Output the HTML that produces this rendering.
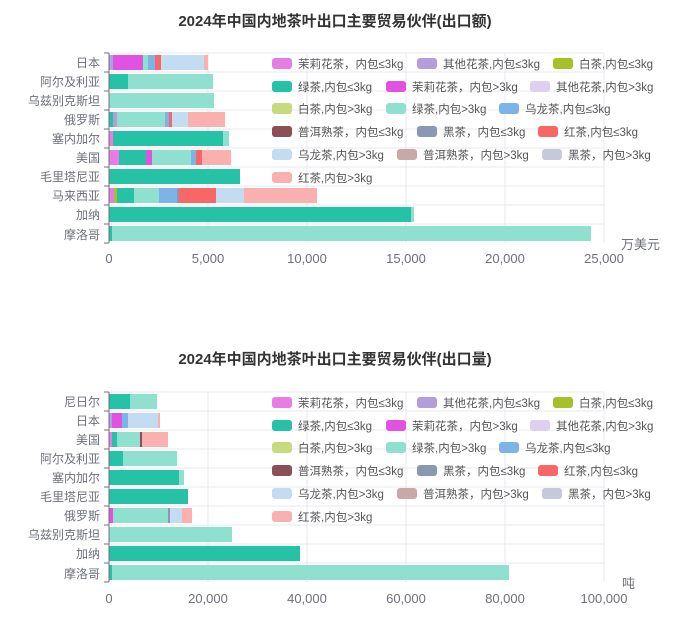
<!DOCTYPE html>
<html><head><meta charset="utf-8"><style>
body{margin:0;background:#fff;}
svg text{font-family:"Liberation Sans","Noto Sans CJK SC",sans-serif;}
</style></head><body>
<svg width="683" height="622" viewBox="0 0 683 622" xmlns="http://www.w3.org/2000/svg">
<rect width="683" height="622" fill="#fff"/>
<text x="335" y="26" text-anchor="middle" font-size="15" font-weight="bold" fill="#333">2024年中国内地茶叶出口主要贸易伙伴(出口额)</text>
<g stroke="#e6e9ef" stroke-width="1">
<line x1="208" y1="53" x2="208" y2="243"/><line x1="307" y1="53" x2="307" y2="243"/><line x1="406" y1="53" x2="406" y2="243"/><line x1="505" y1="53" x2="505" y2="243"/><line x1="604" y1="53" x2="604" y2="243"/>
<line x1="109" y1="53" x2="604" y2="53"/><line x1="109" y1="72" x2="604" y2="72"/><line x1="109" y1="91" x2="604" y2="91"/><line x1="109" y1="110" x2="604" y2="110"/><line x1="109" y1="129" x2="604" y2="129"/><line x1="109" y1="148" x2="604" y2="148"/><line x1="109" y1="167" x2="604" y2="167"/><line x1="109" y1="186" x2="604" y2="186"/><line x1="109" y1="205" x2="604" y2="205"/><line x1="109" y1="224" x2="604" y2="224"/>
</g>
<g>
<rect x="109" y="55" width="4" height="15" fill="#b39ddb"/><rect x="113" y="55" width="30" height="15" fill="#e052e0"/><rect x="143" y="55" width="5" height="15" fill="#8fe0cf"/><rect x="148" y="55" width="7" height="15" fill="#7db3e8"/><rect x="155" y="55" width="6" height="15" fill="#f96666"/><rect x="161" y="55" width="43" height="15" fill="#c4dcf2"/><rect x="204" y="55" width="4" height="15" fill="#fbb0b0"/>
<rect x="109" y="74" width="19" height="15" fill="#26c2a6"/><rect x="128" y="74" width="85" height="15" fill="#8fe0cf"/>
<rect x="109" y="93" width="105" height="15" fill="#8fe0cf"/>
<rect x="109" y="112" width="4" height="15" fill="#26c2a6"/><rect x="113" y="112" width="4" height="15" fill="#b39ddb"/><rect x="117" y="112" width="48" height="15" fill="#8fe0cf"/><rect x="165" y="112" width="4" height="15" fill="#7db3e8"/><rect x="169" y="112" width="3" height="15" fill="#f96666"/><rect x="172" y="112" width="16" height="15" fill="#c4dcf2"/><rect x="188" y="112" width="37" height="15" fill="#fbb0b0"/>
<rect x="109" y="131" width="4" height="15" fill="#e57de5"/><rect x="113" y="131" width="110" height="15" fill="#26c2a6"/><rect x="223" y="131" width="6" height="15" fill="#8fe0cf"/>
<rect x="109" y="150" width="10" height="15" fill="#e57de5"/><rect x="119" y="150" width="27" height="15" fill="#26c2a6"/><rect x="146" y="150" width="6" height="15" fill="#e052e0"/><rect x="152" y="150" width="39" height="15" fill="#8fe0cf"/><rect x="191" y="150" width="5" height="15" fill="#7db3e8"/><rect x="196" y="150" width="6" height="15" fill="#f96666"/><rect x="202" y="150" width="29" height="15" fill="#fbb0b0"/>
<rect x="109" y="169" width="131" height="15" fill="#26c2a6"/>
<rect x="109" y="188" width="5" height="15" fill="#e57de5"/><rect x="114" y="188" width="3" height="15" fill="#a6c02a"/><rect x="117" y="188" width="17" height="15" fill="#26c2a6"/><rect x="134" y="188" width="25" height="15" fill="#8fe0cf"/><rect x="159" y="188" width="18" height="15" fill="#7db3e8"/><rect x="177" y="188" width="2" height="15" fill="#8a98b3"/><rect x="179" y="188" width="37" height="15" fill="#f96666"/><rect x="216" y="188" width="28" height="15" fill="#c4dcf2"/><rect x="244" y="188" width="73" height="15" fill="#fbb0b0"/>
<rect x="109" y="207" width="302" height="15" fill="#26c2a6"/><rect x="411" y="207" width="3" height="15" fill="#8fe0cf"/>
<rect x="109" y="226" width="3" height="15" fill="#26c2a6"/><rect x="112" y="226" width="479" height="15" fill="#8fe0cf"/>
</g>
<g stroke="#6e7079" stroke-width="1">
<line x1="109" y1="53" x2="109" y2="243"/>
<line x1="104" y1="53" x2="109" y2="53"/><line x1="104" y1="72" x2="109" y2="72"/><line x1="104" y1="91" x2="109" y2="91"/><line x1="104" y1="110" x2="109" y2="110"/><line x1="104" y1="129" x2="109" y2="129"/><line x1="104" y1="148" x2="109" y2="148"/><line x1="104" y1="167" x2="109" y2="167"/><line x1="104" y1="186" x2="109" y2="186"/><line x1="104" y1="205" x2="109" y2="205"/><line x1="104" y1="224" x2="109" y2="224"/><line x1="104" y1="243" x2="109" y2="243"/>
</g>
<g font-size="12" fill="#6e7079" text-anchor="end">
<text x="100" y="67">日本</text><text x="100" y="86">阿尔及利亚</text><text x="100" y="105">乌兹别克斯坦</text><text x="100" y="124">俄罗斯</text><text x="100" y="143">塞内加尔</text><text x="100" y="162">美国</text><text x="100" y="181">毛里塔尼亚</text><text x="100" y="200">马来西亚</text><text x="100" y="219">加纳</text><text x="100" y="239">摩洛哥</text>
</g>
<g font-size="13" fill="#6e7079" text-anchor="middle">
<text x="109" y="263">0</text><text x="208" y="263">5,000</text><text x="307" y="263">10,000</text><text x="406" y="263">15,000</text><text x="505" y="263">20,000</text><text x="604" y="263">25,000</text>
</g>
<text x="621" y="249" font-size="13" fill="#6e7079">万美元</text>
<g font-size="11.5" fill="#555">
<rect x="272" y="58" width="20" height="11" rx="3" fill="#e57de5"/><text x="298" y="68">茉莉花茶，内包≤3kg</text>
<rect x="417" y="58" width="20" height="11" rx="3" fill="#b39ddb"/><text x="443" y="68">其他花茶,内包≤3kg</text>
<rect x="553" y="58" width="20" height="11" rx="3" fill="#a6c02a"/><text x="579" y="68">白茶,内包≤3kg</text>
<rect x="272" y="81" width="20" height="11" rx="3" fill="#26c2a6"/><text x="298" y="91">绿茶,内包≤3kg</text>
<rect x="386" y="81" width="20" height="11" rx="3" fill="#e052e0"/><text x="412" y="91">茉莉花茶，内包&gt;3kg</text>
<rect x="530" y="81" width="20" height="11" rx="3" fill="#dcd0ee"/><text x="556" y="91">其他花茶,内包&gt;3kg</text>
<rect x="272" y="103" width="20" height="11" rx="3" fill="#c8da7e"/><text x="298" y="113">白茶,内包&gt;3kg</text>
<rect x="386" y="103" width="20" height="11" rx="3" fill="#8fe0cf"/><text x="412" y="113">绿茶,内包&gt;3kg</text>
<rect x="499" y="103" width="20" height="11" rx="3" fill="#7db3e8"/><text x="525" y="113">乌龙茶,内包≤3kg</text>
<rect x="272" y="126" width="20" height="11" rx="3" fill="#8b4f57"/><text x="298" y="136">普洱熟茶，内包≤3kg</text>
<rect x="417" y="126" width="20" height="11" rx="3" fill="#8a98b3"/><text x="443" y="136">黑茶，内包≤3kg</text>
<rect x="538" y="126" width="20" height="11" rx="3" fill="#f96666"/><text x="564" y="136">红茶,内包≤3kg</text>
<rect x="272" y="149" width="20" height="11" rx="3" fill="#c4dcf2"/><text x="298" y="159">乌龙茶,内包&gt;3kg</text>
<rect x="397" y="149" width="20" height="11" rx="3" fill="#c9a8a8"/><text x="423" y="159">普洱熟茶，内包&gt;3kg</text>
<rect x="542" y="149" width="20" height="11" rx="3" fill="#c6cad8"/><text x="568" y="159">黑茶，内包&gt;3kg</text>
<rect x="272" y="172" width="20" height="11" rx="3" fill="#fbb0b0"/><text x="298" y="182">红茶,内包&gt;3kg</text>
</g>

<text x="335" y="364" text-anchor="middle" font-size="15" font-weight="bold" fill="#333">2024年中国内地茶叶出口主要贸易伙伴(出口量)</text>
<g stroke="#e6e9ef" stroke-width="1">
<line x1="208" y1="392" x2="208" y2="582"/><line x1="307" y1="392" x2="307" y2="582"/><line x1="406" y1="392" x2="406" y2="582"/><line x1="505" y1="392" x2="505" y2="582"/><line x1="604" y1="392" x2="604" y2="582"/>
<line x1="109" y1="392" x2="604" y2="392"/><line x1="109" y1="411" x2="604" y2="411"/><line x1="109" y1="430" x2="604" y2="430"/><line x1="109" y1="449" x2="604" y2="449"/><line x1="109" y1="468" x2="604" y2="468"/><line x1="109" y1="487" x2="604" y2="487"/><line x1="109" y1="506" x2="604" y2="506"/><line x1="109" y1="525" x2="604" y2="525"/><line x1="109" y1="544" x2="604" y2="544"/><line x1="109" y1="563" x2="604" y2="563"/>
</g>
<g>
<rect x="109" y="394" width="21" height="15" fill="#26c2a6"/><rect x="130" y="394" width="27" height="15" fill="#8fe0cf"/>
<rect x="109" y="413" width="3" height="15" fill="#b39ddb"/><rect x="112" y="413" width="10" height="15" fill="#e052e0"/><rect x="122" y="413" width="6" height="15" fill="#7db3e8"/><rect x="128" y="413" width="30" height="15" fill="#c4dcf2"/><rect x="158" y="413" width="2" height="15" fill="#fbb0b0"/>
<rect x="109" y="432" width="3" height="15" fill="#e57de5"/><rect x="112" y="432" width="5" height="15" fill="#26c2a6"/><rect x="117" y="432" width="23" height="15" fill="#8fe0cf"/><rect x="140" y="432" width="2" height="15" fill="#8b4f57"/><rect x="142" y="432" width="26" height="15" fill="#fbb0b0"/>
<rect x="109" y="451" width="14" height="15" fill="#26c2a6"/><rect x="123" y="451" width="54" height="15" fill="#8fe0cf"/>
<rect x="109" y="470" width="70" height="15" fill="#26c2a6"/><rect x="179" y="470" width="5" height="15" fill="#8fe0cf"/>
<rect x="109" y="489" width="79" height="15" fill="#26c2a6"/>
<rect x="109" y="508" width="4" height="15" fill="#e052e0"/><rect x="113" y="508" width="55" height="15" fill="#8fe0cf"/><rect x="168" y="508" width="2" height="15" fill="#8a98b3"/><rect x="170" y="508" width="12" height="15" fill="#c4dcf2"/><rect x="182" y="508" width="10" height="15" fill="#fbb0b0"/>
<rect x="109" y="527" width="123" height="15" fill="#8fe0cf"/>
<rect x="109" y="546" width="191" height="15" fill="#26c2a6"/>
<rect x="109" y="565" width="3" height="15" fill="#26c2a6"/><rect x="112" y="565" width="397" height="15" fill="#8fe0cf"/>
</g>
<g stroke="#6e7079" stroke-width="1">
<line x1="109" y1="392" x2="109" y2="582"/>
<line x1="104" y1="392" x2="109" y2="392"/><line x1="104" y1="411" x2="109" y2="411"/><line x1="104" y1="430" x2="109" y2="430"/><line x1="104" y1="449" x2="109" y2="449"/><line x1="104" y1="468" x2="109" y2="468"/><line x1="104" y1="487" x2="109" y2="487"/><line x1="104" y1="506" x2="109" y2="506"/><line x1="104" y1="525" x2="109" y2="525"/><line x1="104" y1="544" x2="109" y2="544"/><line x1="104" y1="563" x2="109" y2="563"/><line x1="104" y1="582" x2="109" y2="582"/>
</g>
<g font-size="12" fill="#6e7079" text-anchor="end">
<text x="100" y="406">尼日尔</text><text x="100" y="425">日本</text><text x="100" y="444">美国</text><text x="100" y="463">阿尔及利亚</text><text x="100" y="482">塞内加尔</text><text x="100" y="501">毛里塔尼亚</text><text x="100" y="520">俄罗斯</text><text x="100" y="539">乌兹别克斯坦</text><text x="100" y="558">加纳</text><text x="100" y="578">摩洛哥</text>
</g>
<g font-size="13" fill="#6e7079" text-anchor="middle">
<text x="109" y="603">0</text><text x="208" y="603">20,000</text><text x="307" y="603">40,000</text><text x="406" y="603">60,000</text><text x="505" y="603">80,000</text><text x="604" y="603">100,000</text>
</g>
<text x="622" y="588" font-size="13" fill="#6e7079">吨</text>
<g font-size="11.5" fill="#555">
<rect x="272" y="397" width="20" height="11" rx="3" fill="#e57de5"/><text x="298" y="407">茉莉花茶，内包≤3kg</text>
<rect x="417" y="397" width="20" height="11" rx="3" fill="#b39ddb"/><text x="443" y="407">其他花茶,内包≤3kg</text>
<rect x="553" y="397" width="20" height="11" rx="3" fill="#a6c02a"/><text x="579" y="407">白茶,内包≤3kg</text>
<rect x="272" y="420" width="20" height="11" rx="3" fill="#26c2a6"/><text x="298" y="430">绿茶,内包≤3kg</text>
<rect x="386" y="420" width="20" height="11" rx="3" fill="#e052e0"/><text x="412" y="430">茉莉花茶，内包&gt;3kg</text>
<rect x="530" y="420" width="20" height="11" rx="3" fill="#dcd0ee"/><text x="556" y="430">其他花茶,内包&gt;3kg</text>
<rect x="272" y="442" width="20" height="11" rx="3" fill="#c8da7e"/><text x="298" y="452">白茶,内包&gt;3kg</text>
<rect x="386" y="442" width="20" height="11" rx="3" fill="#8fe0cf"/><text x="412" y="452">绿茶,内包&gt;3kg</text>
<rect x="499" y="442" width="20" height="11" rx="3" fill="#7db3e8"/><text x="525" y="452">乌龙茶,内包≤3kg</text>
<rect x="272" y="465" width="20" height="11" rx="3" fill="#8b4f57"/><text x="298" y="475">普洱熟茶，内包≤3kg</text>
<rect x="417" y="465" width="20" height="11" rx="3" fill="#8a98b3"/><text x="443" y="475">黑茶，内包≤3kg</text>
<rect x="538" y="465" width="20" height="11" rx="3" fill="#f96666"/><text x="564" y="475">红茶,内包≤3kg</text>
<rect x="272" y="488" width="20" height="11" rx="3" fill="#c4dcf2"/><text x="298" y="498">乌龙茶,内包&gt;3kg</text>
<rect x="397" y="488" width="20" height="11" rx="3" fill="#c9a8a8"/><text x="423" y="498">普洱熟茶，内包&gt;3kg</text>
<rect x="542" y="488" width="20" height="11" rx="3" fill="#c6cad8"/><text x="568" y="498">黑茶，内包&gt;3kg</text>
<rect x="272" y="511" width="20" height="11" rx="3" fill="#fbb0b0"/><text x="298" y="521">红茶,内包&gt;3kg</text>
</g>
</svg>
</body></html>
